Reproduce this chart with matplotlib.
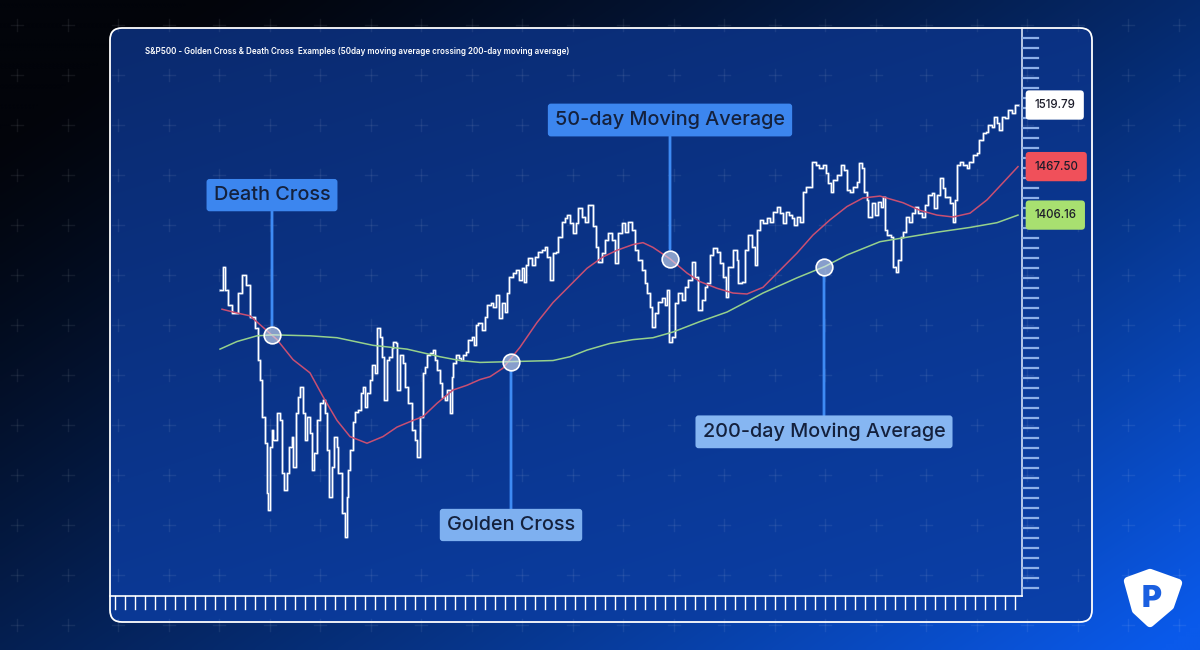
import numpy as np
import matplotlib
matplotlib.use("Agg")
import matplotlib.pyplot as plt
from matplotlib.patches import FancyBboxPatch, Polygon

plt.rcParams['font.family'] = ['Inter', 'DejaVu Sans']

# S&P 500 closes (trading-day index)
days = [0, 3, 5, 8, 12, 18, 22, 26, 30, 35,
        38, 40, 42, 45, 47, 48, 50, 52, 53, 57,
        60, 62, 64, 67, 69, 72, 73, 76, 78, 80,
        83, 85, 87, 90, 92, 94, 97, 100, 103, 105,
        107, 109, 112, 114, 117, 118, 122, 125, 127, 128,
        130, 133, 135, 138, 141, 143, 145, 147, 150, 152,
        155, 157, 160, 162, 164, 167, 169, 172, 173, 176,
        177, 180, 183, 185, 188, 191, 192, 195, 197, 200,
        203, 205, 207, 210, 213, 215, 217, 220, 222, 225,
        227, 230, 232, 233, 236, 239, 241, 243, 246, 248,
        252, 254, 256, 258, 262, 265, 267, 271, 273, 276,
        279, 282, 285, 287, 289, 293, 296, 299, 302, 304,
        306, 308, 312, 315, 318, 322, 325, 327, 330, 333,
        336, 338, 342, 345, 347, 350, 353, 356, 358, 362,
        365, 368, 373, 376, 378, 382, 385, 388, 392, 395,
        398, 402, 405, 408, 412, 415, 418, 422, 425, 427,
        430, 432, 435, 438, 442, 445, 447, 449, 452, 455,
        458, 462, 465, 468, 472, 475, 478, 482, 485, 487,
        490, 493, 497, 500, 503, 506, 508, 513, 517, 518,
        522, 525, 528, 532, 535, 537, 540, 543, 547, 550,
        553, 557, 560, 563, 566, 569, 572, 574, 577, 580,
        583, 586, 589, 592, 596, 599, 603, 606, 608, 611,
        613, 617, 621, 624, 627, 630, 633, 637, 639, 642,
        644, 647, 648, 652, 655, 658, 661, 663, 665, 667,
        671, 673, 676, 678, 681, 683, 686, 689, 692, 695,
        698, 702, 705, 708, 712, 714, 717, 720, 723, 725,
        727, 730, 733, 735, 737, 740, 743, 747, 749, 753,
        757, 759, 763, 766, 768, 772, 774, 777, 779, 782,
        785, 788, 792, 795, 798]
close = [1325, 1349, 1325, 1309, 1301, 1322, 1341, 1330, 1297, 1285,
         1252, 1231, 1192, 1164, 1112, 1094, 1160, 1178, 1167, 1196,
         1188, 1133, 1115, 1133, 1160, 1171, 1139, 1196, 1213, 1223,
         1196, 1167, 1192, 1175, 1136, 1154, 1188, 1206, 1210, 1196,
         1157, 1107, 1139, 1171, 1160, 1133, 1091, 1065, 1107, 1136,
         1157, 1186, 1197, 1199, 1217, 1223, 1202, 1217, 1231, 1246,
         1238, 1285, 1276, 1255, 1210, 1252, 1255, 1264, 1271, 1269,
         1220, 1257, 1248, 1223, 1206, 1206, 1178, 1167, 1150, 1192,
         1238, 1244, 1257, 1259, 1262, 1252, 1241, 1227, 1213, 1210,
         1220, 1196, 1234, 1248, 1257, 1254, 1252, 1257, 1260, 1273,
         1276, 1267, 1288, 1291, 1283, 1297, 1309, 1312, 1307, 1320,
         1296, 1312, 1302, 1322, 1339, 1343, 1346, 1336, 1348, 1334,
         1352, 1359, 1352, 1360, 1365, 1367, 1370, 1360, 1336, 1364,
         1365, 1381, 1397, 1401, 1404, 1396, 1385, 1396, 1411, 1402,
         1397, 1415, 1392, 1370, 1355, 1364, 1378, 1385, 1378, 1354,
         1385, 1396, 1386, 1397, 1388, 1367, 1357, 1346, 1333, 1322,
         1307, 1286, 1301, 1313, 1317, 1309, 1325, 1271, 1276, 1312,
         1322, 1315, 1328, 1336, 1355, 1339, 1304, 1315, 1328, 1333,
         1362, 1369, 1365, 1354, 1339, 1318, 1349, 1367, 1357, 1333,
         1334, 1367, 1383, 1370, 1352, 1388, 1399, 1396, 1401, 1397,
         1407, 1413, 1406, 1396, 1407, 1404, 1401, 1394, 1402, 1397,
         1428, 1434, 1434, 1460, 1457, 1454, 1457, 1448, 1438, 1428,
         1441, 1446, 1457, 1451, 1430, 1428, 1434, 1439, 1459, 1454,
         1428, 1420, 1402, 1417, 1404, 1418, 1413, 1423, 1388, 1383,
         1381, 1349, 1344, 1357, 1381, 1386, 1402, 1397, 1406, 1413,
         1406, 1402, 1415, 1425, 1427, 1411, 1425, 1443, 1433, 1423,
         1423, 1417, 1397, 1420, 1457, 1460, 1457, 1454, 1460, 1467,
         1469, 1483, 1490, 1491, 1499, 1497, 1507, 1501, 1494, 1507,
         1506, 1515, 1511, 1520, 1519.79]

ma50_days = [2, 17, 30, 43, 57, 73, 90, 103, 117, 130,
             147, 163, 177, 193, 203, 217, 233, 247, 260, 270,
             283, 300, 317, 333, 350, 367, 383, 397, 413, 423,
             433, 450, 467, 480, 497, 513, 527, 543, 560, 577,
             593, 610, 627, 643, 660, 683, 700, 717, 733, 750,
             767, 783, 798]
ma50 = [1305, 1301, 1298, 1286, 1273, 1252, 1238, 1213, 1188, 1171,
        1164, 1171, 1181, 1188, 1192, 1206, 1220, 1225, 1231, 1234,
        1243, 1265, 1291, 1312, 1330, 1348, 1360, 1367, 1373, 1375,
        1370, 1358, 1343, 1334, 1327, 1322, 1321, 1328, 1346, 1364,
        1383, 1399, 1413, 1422, 1424, 1417, 1409, 1404, 1402, 1406,
        1420, 1438, 1455]

ma200_days = [0, 17, 37, 53, 90, 117, 153, 187, 220, 240,
              260, 333, 350, 367, 390, 413, 433, 453, 480, 507,
              527, 543, 577, 605, 627, 660, 683, 717, 750, 777, 798]
ma200 = [1263, 1271, 1277, 1278, 1277, 1275, 1267, 1263, 1255, 1251,
         1249, 1251, 1255, 1262, 1269, 1273, 1275, 1281, 1292, 1302,
         1313, 1322, 1338, 1350, 1362, 1376, 1380, 1386, 1391, 1396, 1404]

end_labels = ['1519.79', '1467.50', '1406.16']
title = ('S&P500 - Golden Cross & Death Cross  Examples '
         '(50day moving average crossing 200-day moving average)')

W, H = 1200, 650
fig = plt.figure(figsize=(12, 6.5), dpi=100)

# ---- background ----
bg = fig.add_axes([0, 0, 1, 1])
bg.set_xlim(0, W)
bg.set_ylim(H, 0)
bg.axis('off')

X, Y = np.meshgrid(np.linspace(0, 1, 300), np.linspace(0, 1, 163))
t = np.clip(0.62 * X + 0.5 * Y - 0.1, 0, 1) ** 1.25
c0 = np.array([2, 4, 10]) / 255
c1 = np.array([10, 90, 235]) / 255
grad = c0[None, None, :] * (1 - t[..., None]) + c1[None, None, :] * t[..., None]
bg.imshow(grad, extent=[0, W, H, 0], aspect='auto', zorder=0, interpolation='bilinear')

# chart panel
panel = FancyBboxPatch((110, 28), 982, 594, boxstyle='round,pad=0,rounding_size=12',
                       facecolor='none', edgecolor='white', lw=1.3, zorder=4)
bg.add_patch(panel)
t2 = np.clip(0.35 * X + 0.65 * Y, 0, 1)
p0 = np.array([11, 42, 110]) / 255
p1 = np.array([10, 64, 170]) / 255
pgrad = p0[None, None, :] * (1 - t2[..., None]) + p1[None, None, :] * t2[..., None]
im = bg.imshow(pgrad, extent=[110, 1092, 622, 28], aspect='auto', zorder=1,
               interpolation='bilinear')
im.set_clip_path(panel)

# faint plus pattern
for gx in np.arange(17, W, 50.5):
    for gy in np.arange(25, H, 50):
        bg.plot([gx - 6, gx + 6], [gy, gy], color='white', alpha=0.07, lw=1, zorder=2)
        bg.plot([gx, gx], [gy - 6, gy + 6], color='white', alpha=0.07, lw=1, zorder=2)

# axis rulers
bg.plot([1022, 1022], [28, 596], color='#d8e2f5', lw=1.2, zorder=3)
bg.plot([110, 1022], [596, 596], color='white', lw=1.2, zorder=3)
for ty in np.arange(38, 592, 10):
    bg.plot([1023, 1038], [ty, ty], color='#8fb0e8', lw=1.6, zorder=3)
for tx in np.arange(115, 1022, 10):
    bg.plot([tx, tx], [596, 609], color='white', lw=1.0, zorder=3)

bg.text(145, 51, title, color='white', fontsize=5.8, fontweight='semibold',
        va='center', ha='left', zorder=5)

# logo
logo = Polygon([(1128, 581), (1150, 573), (1178, 583), (1170, 606), (1150, 623), (1136, 610)],
               closed=True, facecolor='white', edgecolor='white', lw=6, joinstyle='round', zorder=5)
bg.add_patch(logo)
bg.text(1152, 599, 'P', color='#1a5fe0', fontsize=22, fontweight='black',
        ha='center', va='center', zorder=6)

# ---- data axes ----
ax = fig.add_axes([110 / W, 1 - 596 / H, 912 / W, 568 / H])
ax.set_facecolor('none')
ax.set_xlim(-110, 802)
ax.set_ylim(1003.3, 1600.8)
ax.axis('off')

ax.step(days, close, where='post', color='#9fb4dc', lw=2.0, alpha=0.6, zorder=2)
ax.step(days, close, where='post', color='white', lw=0.9, zorder=2.5)
ax.plot(ma50_days, ma50, color='#c94f72', lw=1.1, zorder=3)
ax.plot(ma200_days, ma200, color='#96d18c', lw=1.1, zorder=3)

line_col = '#3e8bf4'
notes = [
    ('Death Cross', 52, ma50_days, ma50, (52, 1425), '#3c86ef'),
    ('50-day Moving Average', 450, ma50_days, ma50, (450, 1504), '#3c86ef'),
    ('Golden Cross', 291, ma200_days, ma200, (291, 1078), '#7eb0f0'),
    ('200-day Moving Average', 604, ma200_days, ma200, (604, 1176), '#86b6f2'),
]
for label, d, md, mv, txy, fc in notes:
    yv = np.interp(d, md, mv)
    ax.annotate(label, xy=(d, yv), xytext=txy, ha='center', va='center',
                fontsize=14.3, fontweight='medium', color='#14213d', zorder=6,
                bbox=dict(boxstyle='round,pad=0.36,rounding_size=0.15', fc=fc, ec='none'),
                arrowprops=dict(arrowstyle='-', color=line_col, lw=2,
                                shrinkA=0, shrinkB=7))
    ax.plot(d, yv, 'o', ms=12, mfc=(0.86, 0.9, 0.97, 0.6), mec='white', mew=1.2, zorder=7)

# end-value tags on the right ruler
tags = [(close[-1], end_labels[0], 'white'),
        (ma50[-1], end_labels[1], '#f0505a'),
        (ma200[-1], end_labels[2], '#a8e070')]
tr = matplotlib.transforms.blended_transform_factory(ax.transAxes, ax.transData)
for yv, txt, fc in tags:
    ax.text(1.0135, yv, txt, transform=tr, ha='left', va='center', fontsize=8.3,
            fontweight='medium', color='#1c1c2a', zorder=8, clip_on=False,
            bbox=dict(boxstyle='round,pad=0.75,rounding_size=0.3', fc=fc, ec='none'))

fig.savefig('out.png', dpi=100)
